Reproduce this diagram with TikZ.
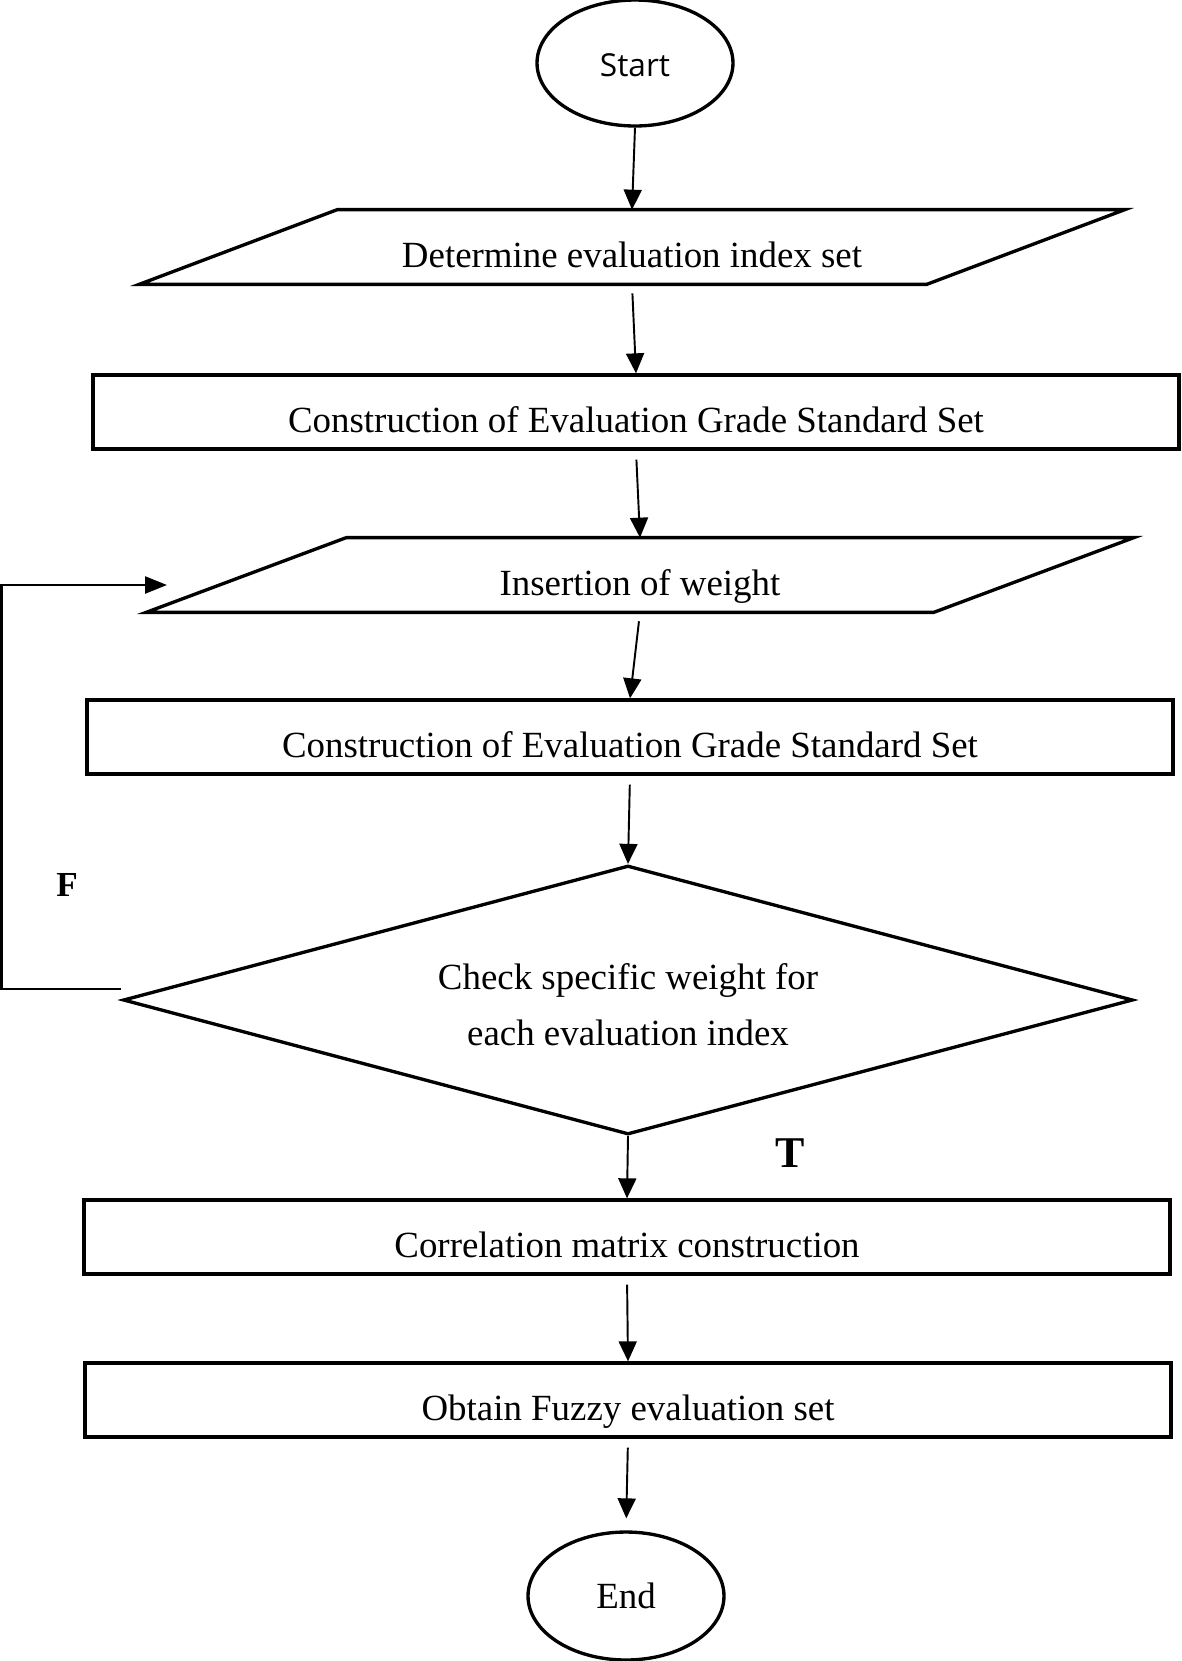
\documentclass[tikz,border=0pt]{standalone}
\usepackage{fontspec}
\setmainfont{Liberation Serif}
\newfontfamily\startfont{Open Sans}
\usetikzlibrary{shapes.geometric,arrows.meta,calc}
\tikzset{
  shape line/.style={line width=1.9pt},
  flow arrow/.style={line width=1.1pt, -{Triangle[length=0.4cm,width=0.36cm]}},
  gap start/.style={shorten <=0.18cm},
  loop line/.style={line width=1.4pt, -{Triangle[length=0.44cm,width=0.34cm]}},
  process/.style={draw, shape line, rectangle, minimum width=21.72cm, minimum height=1.48cm,
    inner sep=0pt, text height=23pt, text depth=0pt, font=\fontsize{21}{25}\selectfont},
  io/.style={rectangle, minimum width=15.74cm, minimum height=1.48cm,
    inner sep=0pt, text height=23pt, text depth=0pt, font=\fontsize{21}{25}\selectfont},
  terminal/.style={draw, shape line, ellipse, minimum width=3.92cm, inner sep=0pt},
  decision/.style={draw, shape line, diamond, aspect=3.75, minimum width=20.2cm,
    minimum height=5.38cm, inner sep=0pt, align=center, text height=52pt, text depth=0pt,
    font=\fontsize{21}{32}\selectfont},
  branch/.style={font=\bfseries\fontsize{20}{24}\selectfont},
}
\newcommand{\slantbox}[2]{\draw[shape line] ($(#1.south west)+(-#2,0)$) -- ($(#1.south east)+(-#2,0)$)
  -- ($(#1.north east)+(#2,0)$) -- ($(#1.north west)+(#2,0)$) -- cycle;}

\begin{document}
\begin{tikzpicture}[x=0.02cm,y=-0.02cm]
            \useasboundingbox (0,0) rectangle (1182,1661);

            % Steps
            \node[terminal, minimum height=2.52cm, text height=15pt, text depth=0pt,
                  font=\startfont\fontsize{18}{22}\selectfont] (start) at (635,63) {Start};
            \node[io] (det) at (632,247) {Determine evaluation index set};
            \node[process] (con1) at (636,412) {Construction of Evaluation Grade Standard Set};
            \node[io] (ins) at (640,575) {Insertion of weight};
            \node[process] (con2) at (630,737) {Construction of Evaluation Grade Standard Set};
            \node[decision] (chk) at (628,1000) {Check specific weight for\\each evaluation index};
            \node[process, minimum height=1.48cm] (corr) at (627,1237) {Correlation matrix construction};
            \node[process, minimum height=1.48cm] (fuzzy) at (628,1400) {Obtain Fuzzy evaluation set};
            \node[terminal, minimum height=2.56cm, font=\fontsize{21}{25}\selectfont] (finish) at (626,1596) {End};

            % Slanted boxes
            \slantbox{det}{99}
            \slantbox{ins}{100}

            % Arrows
            \draw[flow arrow] (start.south) -- (det.north);
            \draw[flow arrow, gap start] (det.south) -- (con1.north);
            \draw[flow arrow, gap start] (con1.south) -- (ins.north);
            \draw[flow arrow, gap start] (ins.south) -- (con2.north);
            \draw[flow arrow, gap start] (con2.south) -- (chk.north);
            \draw[flow arrow] (chk.south) -- (corr.north);
            \draw[flow arrow, gap start] (corr.south) -- (fuzzy.north);
            \draw[flow arrow, gap start, shorten >=0.24cm] (fuzzy.south) -- (finish.north);

            % Loop back
            \coordinate (back) at (167,585);
            \draw[loop line] ([yshift=0.22cm]chk.west) -- ++(-120,0) |- (back);
            \node[branch] (f) at (67,885) {F};
            \node[branch, font=\bfseries\fontsize{25}{30}\selectfont] (t) at (790,1153) {T};
\end{tikzpicture}
\end{document}
